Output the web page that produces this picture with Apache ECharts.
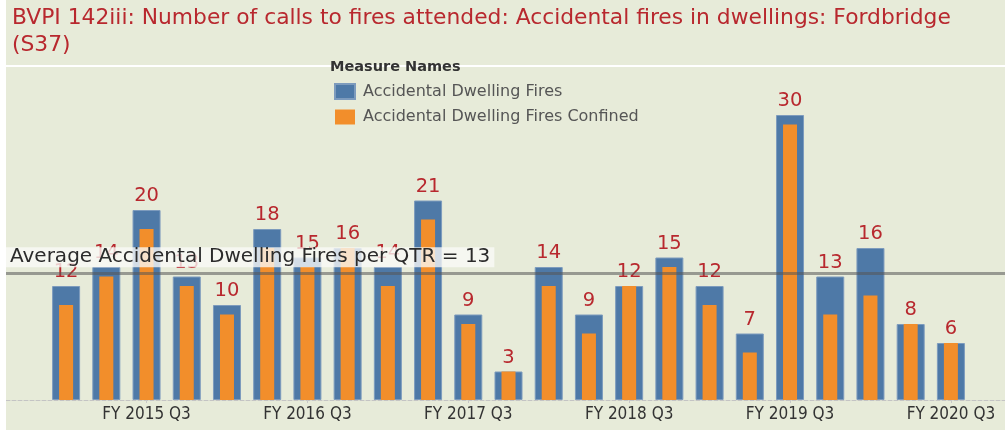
<!DOCTYPE html>
<html lang="en">
<head>
    <meta charset="UTF-8">
    <title>BVPI 142iii</title>
    <script src="https://cdn.jsdelivr.net/npm/echarts@6/dist/echarts.min.js"></script>
    <style>
        html, body { margin: 0; padding: 0; background: #ffffff; }
        #main { position: absolute; left: 6px; top: 0; width: 999px; height: 430px; }
    </style>
</head>
<body>
<div id="main"></div>
<script type="text/javascript">
    var quarters = ['FY 2015 Q1', 'FY 2015 Q2', 'FY 2015 Q3', 'FY 2015 Q4',
        'FY 2016 Q1', 'FY 2016 Q2', 'FY 2016 Q3', 'FY 2016 Q4',
        'FY 2017 Q1', 'FY 2017 Q2', 'FY 2017 Q3', 'FY 2017 Q4',
        'FY 2018 Q1', 'FY 2018 Q2', 'FY 2018 Q3', 'FY 2018 Q4',
        'FY 2019 Q1', 'FY 2019 Q2', 'FY 2019 Q3', 'FY 2019 Q4',
        'FY 2020 Q1', 'FY 2020 Q2', 'FY 2020 Q3'];
    var dwellingFires = [12, 14, 20, 13, 10, 18, 15, 16, 14, 21, 9, 3, 14, 9, 12, 15, 12, 7, 30, 13, 16, 8, 6];
    var firesConfined = [10, 13, 18, 12, 9, 16, 14, 16, 12, 19, 8, 3, 12, 7, 12, 14, 10, 5, 29, 9, 11, 8, 6];
    var seriesNames = ['Accidental Dwelling Fires', 'Accidental Dwelling Fires Confined'];

    var titleText = 'BVPI 142iii: Number of calls to fires attended: Accidental fires in dwellings: Fordbridge\n(S37)';
    var red = '#b8282e';
    var narrow = "'DejaVu Sans Condensed', 'Liberation Sans Narrow', 'Liberation Sans', sans-serif";

    var myChart = echarts.init(document.getElementById('main'));
    var option = {
        backgroundColor: '#e7ebd9',
        animation: false,
        textStyle: { fontFamily: 'DejaVu Sans' },
        graphic: [{
            type: 'rect', z: 0, silent: true,
            shape: { x: 0, y: 65, width: 999, height: 2 },
            style: { fill: '#ffffff' }
        }],
        title: [{
            text: titleText,
            left: 6, top: 5, padding: 0,
            textStyle: { color: red, fontSize: 21.8, fontWeight: 'normal', lineHeight: 27, fontFamily: 'DejaVu Sans' }
        }, {
            text: 'Measure Names',
            left: 324, top: 60, padding: 0,
            textStyle: { color: '#333333', fontSize: 14.5, fontWeight: 'bold', fontFamily: 'DejaVu Sans' }
        }],
        legend: {
            data: seriesNames,
            orient: 'vertical',
            left: 328, top: 83,
            padding: 0,
            itemWidth: 20, itemHeight: 15, itemGap: 9,
            icon: 'rect',
            textStyle: { color: '#555555', fontSize: 16, fontFamily: 'DejaVu Sans', padding: [0, 0, 0, 3] }
        },
        grid: [
            { left: 40, right: 34, top: 96, bottom: 30 },
            { left: 0, right: 0, top: 96, bottom: 30 }
        ],
        xAxis: [{
            type: 'category', gridIndex: 0, data: quarters,
            axisLine: { show: false },
            axisTick: {
                show: true, length: 3, alignWithLabel: true,
                interval: function (i) { return i % 4 === 2; },
                lineStyle: { color: '#c8c8c8' }
            },
            axisLabel: {
                interval: function (i) { return i % 4 === 2; },
                color: '#333333', fontSize: 17, margin: 6,
                fontFamily: narrow
            }
        }, {
            type: 'category', gridIndex: 0, data: quarters, show: false
        }, {
            type: 'category', gridIndex: 1, data: quarters,
            axisLine: { show: true, lineStyle: { color: '#c4c4c4', type: 'dashed', width: 1 } },
            axisTick: { show: false },
            axisLabel: { show: false }
        }],
        yAxis: [
            { type: 'value', gridIndex: 0, min: 0, max: 32, show: false },
            { type: 'value', gridIndex: 1, min: 0, max: 32, show: false }
        ],
        series: [{
            name: seriesNames[0],
            type: 'bar',
            xAxisIndex: 0, yAxisIndex: 0,
            barWidth: 28,
            data: dwellingFires,
            itemStyle: { color: '#4e79a7', borderColor: '#7d9bbd', borderWidth: 1 },
            label: {
                show: true, position: 'top', distance: 4,
                color: red, fontSize: 19.5, fontFamily: 'DejaVu Sans'
            },
            z: 2
        }, {
            name: seriesNames[1],
            type: 'bar',
            xAxisIndex: 1, yAxisIndex: 0,
            barWidth: 14,
            data: firesConfined,
            itemStyle: { color: '#f28e2b' },
            z: 3
        }, {
            name: 'average',
            type: 'bar',
            xAxisIndex: 2, yAxisIndex: 1,
            data: dwellingFires,
            silent: true,
            itemStyle: { color: 'rgba(0,0,0,0)' },
            z: 10,
            markLine: {
                silent: true,
                symbol: 'none',
                data: [{ type: 'average' }],
                lineStyle: { color: 'rgba(85,85,85,0.55)', width: 3, type: 'solid' },
                label: {
                    show: true,
                    position: 'insideStartTop',
                    distance: [0, 6],
                    formatter: function (p) {
                        return 'Average Accidental Dwelling Fires per QTR = ' + Math.round(p.value);
                    },
                    color: '#2b2b2b', fontSize: 20, fontFamily: 'DejaVu Sans',
                    backgroundColor: 'rgba(250,250,247,0.78)',
                    padding: [0, 4, 0, 4]
                }
            }
        }]
    };
    myChart.setOption(option);
</script>
</body>
</html>
